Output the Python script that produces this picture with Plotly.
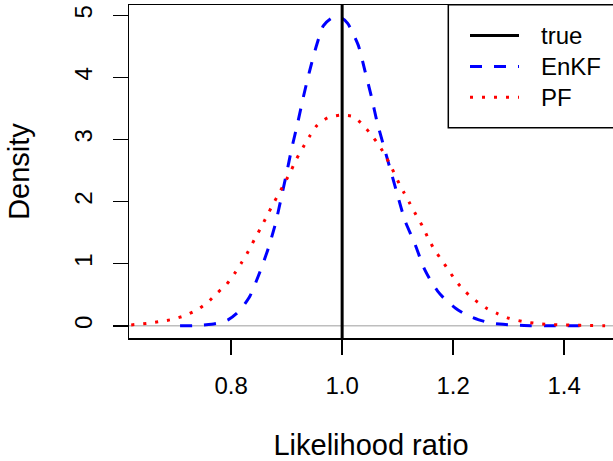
import plotly.graph_objects as go

# ---- data ----
enkf_x = [0.708, 0.730, 0.750, 0.765, 0.780, 0.795, 0.810, 0.822, 0.834, 0.852,
          0.867, 0.880, 0.890, 0.900, 0.909, 0.920, 0.930, 0.941, 0.953, 0.966,
          0.980, 0.990, 1.000, 1.010, 1.029, 1.041, 1.053, 1.063, 1.076, 1.088,
          1.100, 1.113, 1.131, 1.147, 1.160, 1.172, 1.186, 1.205, 1.225, 1.245,
          1.268, 1.290, 1.315, 1.340, 1.380, 1.440]
enkf_y = [0.000, 0.003, 0.012, 0.025, 0.050, 0.100, 0.200, 0.320, 0.480, 0.870,
          1.250, 1.650, 2.050, 2.460, 2.850, 3.270, 3.680, 4.090, 4.490, 4.830,
          4.950, 4.970, 4.950, 4.870, 4.520, 4.110, 3.680, 3.280, 2.860, 2.480,
          2.100, 1.700, 1.320, 0.940, 0.720, 0.560, 0.420, 0.280, 0.170, 0.100,
          0.045, 0.024, 0.010, 0.003, 0.001, 0.000]

pf_x = [0.620, 0.626, 0.649, 0.672, 0.695, 0.718, 0.739, 0.758, 0.775, 0.792,
        0.806, 0.819, 0.831, 0.842, 0.853, 0.864, 0.875, 0.886, 0.897, 0.908,
        0.918, 0.930, 0.942, 0.955, 0.974, 0.996, 1.020, 1.038, 1.053, 1.067,
        1.079, 1.090, 1.100, 1.111, 1.122, 1.133, 1.145, 1.155, 1.166, 1.180,
        1.193, 1.206, 1.222, 1.240, 1.259, 1.279, 1.301, 1.325, 1.348, 1.371,
        1.395, 1.418, 1.440, 1.470, 1.500]
pf_y = [0.015, 0.020, 0.040, 0.070, 0.105, 0.170, 0.260, 0.380, 0.530, 0.670,
        0.840, 1.020, 1.200, 1.390, 1.570, 1.760, 1.950, 2.130, 2.310, 2.500,
        2.690, 2.880, 3.060, 3.230, 3.350, 3.390, 3.370, 3.230, 3.070, 2.900,
        2.720, 2.530, 2.340, 2.150, 1.970, 1.790, 1.600, 1.410, 1.230, 1.050,
        0.880, 0.710, 0.550, 0.410, 0.290, 0.200, 0.120, 0.070, 0.040, 0.024,
        0.015, 0.010, 0.005, 0.002, 0.000]

true_ratio = 1.0

x_ticks = [0.8, 1.0, 1.2, 1.4]
x_tick_labels = ["0.8", "1.0", "1.2", "1.4"]
y_ticks = [0, 1, 2, 3, 4, 5]
y_tick_labels = ["0", "1", "2", "3", "4", "5"]

legend_labels = ["true", "EnKF", "PF"]
x_label = "Likelihood ratio"
y_label = "Density"

# ---- styling ----
FONT = "Liberation Sans, Arial, Helvetica, sans-serif"
FS = 24
W, H = 613, 461
ML, MR, MT, MB = 129, 0, 5, 123
PW, PH = W - ML - MR, H - MT - MB

def px_x(p):
    return (p - ML) / PW

def px_y(p):
    return (H - MB - p) / PH

styles = [
    dict(color="black", width=3, dash="solid"),
    dict(color="#0000ff", width=3, dash="12px,12px"),
    dict(color="#ff0000", width=3, dash="3px,9px"),
]

fig = go.Figure()
fig.add_trace(go.Scatter(x=enkf_x, y=enkf_y, mode="lines", name=legend_labels[1],
                         line=dict(color=styles[1]["color"], width=styles[1]["width"],
                                   dash=styles[1]["dash"], shape="spline", smoothing=0.6),
                         showlegend=False, hoverinfo="skip"))
fig.add_trace(go.Scatter(x=pf_x, y=pf_y, mode="lines", name=legend_labels[2],
                         line=dict(color=styles[2]["color"], width=styles[2]["width"],
                                   dash=styles[2]["dash"], shape="spline", smoothing=0.6),
                         showlegend=False, hoverinfo="skip"))

shapes = [
    # zero baseline (gray)
    dict(type="line", xref="paper", yref="y", x0=0, x1=1, y0=0, y1=0,
         line=dict(color="#bebebe", width=1.5), layer="below"),
    # true value vertical line
    dict(type="line", xref="x", yref="paper", x0=true_ratio, x1=true_ratio, y0=0, y1=1,
         line=dict(color="black", width=3), layer="above"),
    # legend box
    dict(type="rect", xref="paper", yref="paper",
         x0=px_x(448.3), x1=px_x(620), y0=px_y(127.7), y1=px_y(4.7),
         line=dict(color="black", width=1.5), fillcolor="white", layer="above"),
]

annotations = []
legend_rows = [35.5, 66.4, 97.3]
for lab, st, ry in zip(legend_labels, styles, legend_rows):
    shapes.append(dict(type="line", xref="paper", yref="paper",
                       x0=px_x(470), x1=px_x(519), y0=px_y(ry), y1=px_y(ry),
                       line=dict(color=st["color"], width=st["width"], dash=st["dash"]),
                       layer="above"))
    annotations.append(dict(xref="paper", yref="paper", x=px_x(538.5), y=px_y(ry),
                            xanchor="left", yanchor="middle", text=lab, showarrow=False,
                            font=dict(family=FONT, size=FS, color="black")))

fig.update_layout(
    width=W, height=H,
    margin=dict(l=ML, r=MR, t=MT, b=MB, pad=0),
    paper_bgcolor="white", plot_bgcolor="white",
    font=dict(family=FONT, size=FS, color="black"),
    shapes=shapes, annotations=annotations,
    showlegend=False, hovermode=False,
)
fig.update_xaxes(range=[0.616, 1.488], tickmode="array", tickvals=x_ticks,
                 ticktext=x_tick_labels, ticks="outside", ticklen=15, tickwidth=1.5,
                 tickcolor="black", showline=True, linecolor="black", linewidth=1.5,
                 mirror=True, showgrid=False, zeroline=False, ticklabelstandoff=11,
                 title=dict(text=x_label, standoff=36))
fig.update_yaxes(range=[-0.196, 5.166], tickmode="array", tickvals=y_ticks,
                 ticktext=y_tick_labels, ticks="outside", ticklen=15, tickwidth=1.5,
                 tickcolor="black", tickangle=-90, showline=True, linecolor="black",
                 linewidth=1.5, mirror=False, showgrid=False, zeroline=False,
                 ticklabelstandoff=11,
                 title=dict(text=y_label, standoff=32))

fig.write_html("out.html",
               config={"displayModeBar": False, "staticPlot": True},
               post_script="document.body.style.margin='0';document.body.style.overflow='hidden';")
